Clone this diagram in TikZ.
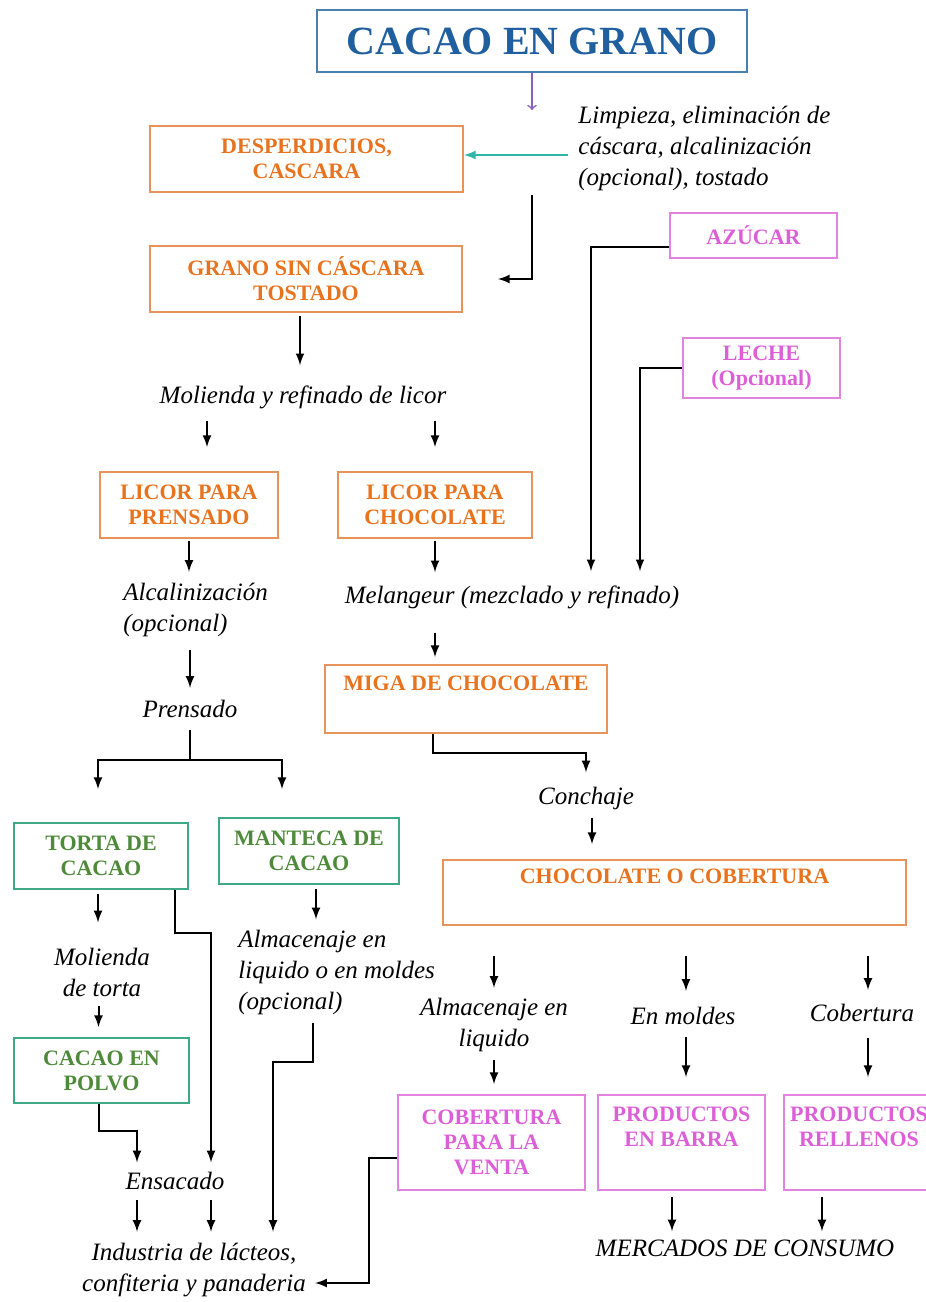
\documentclass[tikz,border=0pt]{standalone}
\usepackage{fontspec}
\setmainfont{Liberation Serif}
\definecolor{tituloazul}{HTML}{1F5F9F}
\definecolor{bordeazul}{HTML}{4A7FAF}
\definecolor{naranja}{HTML}{E8731E}
\definecolor{bordenaranja}{HTML}{E8935A}
\definecolor{verde}{HTML}{4E8A3A}
\definecolor{bordeverde}{HTML}{3DAA85}
\definecolor{magenta}{HTML}{DD5FD8}
\definecolor{bordemagenta}{HTML}{E283E0}
\definecolor{turquesa}{HTML}{2DB5A5}
\definecolor{morado}{HTML}{8B5FBF}
\tikzset{
  caja/.style={draw, line width=1pt, inner sep=0pt, align=center,
    font=\bfseries\fontsize{11}{12.5}\selectfont},
  cajanar/.style={caja, draw=bordenaranja, text=naranja},
  cajaver/.style={caja, draw=bordeverde, text=verde},
  cajamag/.style={caja, draw=bordemagenta, text=magenta},
  paso/.style={inner sep=0pt, align=center, font=\itshape\fontsize{12.5}{15.5}\selectfont},
  flecha/.style={-latex, line width=1pt},
}

\begin{document}
\begin{tikzpicture}[x=0.5pt,y=-0.5pt]
  \useasboundingbox (0,0) rectangle (926,1302);
  \fill[white] (0,0) rectangle (926,1302);

  \node[caja, draw=bordeazul, text=tituloazul, minimum width=215pt, minimum height=31pt,
    font=\bfseries\fontsize{20}{24}\selectfont] (grano) at (532,41) {CACAO EN GRANO};
  \node[paso, anchor=west, align=left] (limp) at (578,148)
    {Limpieza, eliminación de\\cáscara, alcalinización\\(opcional), tostado};
  \node[cajanar, minimum width=156.5pt, minimum height=33pt] (desp) at (306.5,159) {DESPERDICIOS,\\CASCARA};
  \node[cajanar, minimum width=156pt, minimum height=33pt] (sincas) at (306,279) {GRANO SIN CÁSCARA\\TOSTADO};
  \node[cajamag, minimum width=83.5pt, minimum height=22.5pt] (azucar) at (753.5,235.5) {AZÚCAR};
  \node[cajamag, minimum width=78.5pt, minimum height=30pt] (leche) at (761.5,368) {LECHE\\(Opcional)};
  \node[paso] (moli) at (303,397) {Molienda y refinado de licor};
  \node[cajanar, minimum width=89pt, minimum height=33pt] (licpren) at (189,505) {LICOR PARA\\PRENSADO};
  \node[cajanar, minimum width=97pt, minimum height=33pt] (licchoc) at (435,505) {LICOR PARA\\CHOCOLATE};
  \node[paso, anchor=west, align=left] (alca) at (123,610) {Alcalinización\\(opcional)};
  \node[paso] (melan) at (512,597) {Melangeur (mezclado y refinado)};
  \node[paso] (prens) at (190,709) {Prensado};
  \node[cajanar, minimum width=141pt, minimum height=34pt] (miga) at (466,699) {MIGA DE CHOCOLATE\\\strut};
  \node[paso] (conch) at (586,798) {Conchaje};
  \node[cajanar, minimum width=231.5pt, minimum height=32.5pt] (choco) at (674.5,892.5) {CHOCOLATE O COBERTURA\\\strut};
  \node[cajaver, minimum width=87pt, minimum height=33pt] (torta) at (101,856) {TORTA DE\\CACAO};
  \node[cajaver, minimum width=90pt, minimum height=33pt] (manteca) at (309,851) {MANTECA DE\\CACAO};
  \node[paso] (moltorta) at (102,972) {Molienda\\de torta};
  \node[cajaver, minimum width=87.5pt, minimum height=32.5pt] (polvo) at (101.5,1070.5) {CACAO EN\\POLVO};
  \node[paso, anchor=west, align=left] (almman) at (238,972) {Almacenaje en\\liquido o en moldes\\(opcional)};
  \node[paso] (ensac) at (175,1181) {Ensacado};
  \node[paso] (indus) at (194,1270) {Industria de lácteos,\\confiteria y panaderia};
  \node[paso] (almliq) at (494,1025) {Almacenaje en\\liquido};
  \node[paso] (moldes) at (683,1016) {En moldes};
  \node[paso] (cobert) at (862,1013) {Cobertura};
  \node[cajamag, minimum width=93.5pt, minimum height=47.5pt] (cobventa) at (491.5,1142.5) {COBERTURA\\PARA LA\\VENTA};
  \node[cajamag, minimum width=83.5pt, minimum height=47.5pt] (barra) at (681.5,1142.5) {PRODUCTOS\\EN BARRA\\\strut};
  \node[cajamag, minimum width=75pt, minimum height=47.5pt] (rellenos) at (859,1142.5) {PRODUCTOS\\RELLENOS\\\strut};
  \node[paso] (merc) at (745,1248) {MERCADOS DE CONSUMO};

  \coordinate (limptop) at (532,110);
  \coordinate (limpout) at (532,195);
  \coordinate (split) at (190,760);

  \draw[->, line width=0.8pt, color=morado] (grano.south) -- (limptop);
  \draw[flecha, color=turquesa, shorten <=5pt] ([yshift=2pt]desp.east -| limp.west) -- ([yshift=2pt]desp.east);
  \draw[flecha, shorten >=17.5pt] (limpout) |- (sincas.east);
  \draw[flecha, shorten <=1.5pt, shorten >=10pt] ([xshift=-3pt]sincas.south) -- ([xshift=-3pt]sincas.south |- moli.north);
  \draw[flecha, shorten <=6pt, shorten >=12pt] ([xshift=9pt]licpren.north |- moli.south) -- ([xshift=9pt]licpren.north);
  \draw[flecha, shorten <=6pt, shorten >=12pt] (licchoc.north |- moli.south) -- (licchoc.north);
  \draw[flecha, shorten <=1pt, shorten >=5.5pt] (licpren.south) -- (licpren.south |- alca.north);
  \draw[flecha, shorten <=1pt, shorten >=6.5pt] (licchoc.south) -- (licchoc.south |- melan.north);
  \draw[flecha, shorten >=7pt] ([yshift=-5.5pt]azucar.west) -| ([xshift=39.5pt]melan.north);
  \draw[flecha, shorten >=7pt] (leche.west) -| ([xshift=64pt]melan.north);
  \draw[flecha, shorten <=6.5pt, shorten >=6pt] (prens.north |- alca.south) -- (prens.north);
  \draw[line width=1pt, shorten <=6pt] (prens.south) -- (split);
  \draw[flecha, shorten >=16.5pt] (split) -| ([xshift=-1.5pt]torta.north);
  \draw[flecha, shorten >=14pt] (split) -| ([xshift=-13.5pt]manteca.north);
  \draw[flecha, shorten <=12pt, shorten >=3.5pt] (licchoc.south |- melan.south) -- (licchoc.south |- miga.north);
  \draw[flecha, shorten >=7pt] ([xshift=-16.5pt]miga.south) -- ++(0,19) -| (conch.north);
  \draw[flecha, shorten <=4pt, shorten >=7.5pt] ([xshift=3pt]conch.south) -- ([xshift=3pt]conch.south |- choco.north);
  \draw[flecha, shorten <=2pt, shorten >=12.5pt] ([xshift=-1.5pt]torta.south) -- ([xshift=-1.5pt]torta.south |- moltorta.north);
  \draw[flecha, shorten <=4.5pt, shorten >=5pt] ([xshift=-1.5pt]polvo.north |- moltorta.south) -- ([xshift=-1.5pt]polvo.north);
  \draw[flecha, shorten >=4.75pt] ([xshift=-7pt]torta.south east) -- ++(0,43) -| ([xshift=18pt]ensac.north);
  \draw[flecha, shorten >=4.75pt] ([xshift=-1.5pt]polvo.south) -- ++(0,27) -| ([xshift=-19pt]ensac.north);
  \draw[flecha, shorten <=5pt, shorten >=5.5pt] ([xshift=-19pt]ensac.south) -- ([xshift=-19pt]ensac.south |- indus.north);
  \draw[flecha, shorten <=5pt, shorten >=5.5pt] ([xshift=18pt]ensac.south) -- ([xshift=18pt]ensac.south |- indus.north);
  \draw[flecha, shorten <=2pt, shorten >=5pt] ([xshift=3.5pt]manteca.south) -- ([xshift=3.5pt]manteca.south |- almman.north);
  \draw[flecha, shorten <=4pt, shorten >=5.5pt] ([xshift=37.5pt]almman.south west) -- ++(0,47.5) -| ([xshift=39.5pt]indus.north);
  \draw[flecha, shorten >=4.5pt] ([yshift=-7.5pt]cobventa.west) -- ++(-28,0) |- ([yshift=-6.5pt]indus.east);
  \draw[flecha, shorten <=15pt, shorten >=5pt] (almliq.north |- choco.south) -- (almliq.north);
  \draw[flecha, shorten <=15pt, shorten >=8pt] ([xshift=1.5pt]moldes.north |- choco.south) -- ([xshift=1.5pt]moldes.north);
  \draw[flecha, shorten <=15pt, shorten >=7pt] ([xshift=3pt]cobert.north |- choco.south) -- ([xshift=3pt]cobert.north);
  \draw[flecha, shorten <=4pt, shorten >=5pt] (almliq.south) -- (almliq.south |- cobventa.north);
  \draw[flecha, shorten <=6pt, shorten >=8.5pt] ([xshift=1.5pt]moldes.south) -- ([xshift=1.5pt]moldes.south |- barra.north);
  \draw[flecha, shorten <=7.75pt, shorten >=8.5pt] ([xshift=3pt]cobert.south) -- ([xshift=3pt]cobert.south |- rellenos.north);
  \draw[flecha, shorten <=3pt, shorten >=4pt] ([xshift=-4.75pt]barra.south) -- ([xshift=-4.75pt]barra.south |- merc.north);
  \draw[flecha, shorten <=3pt, shorten >=4pt] ([xshift=-18.5pt]rellenos.south) -- ([xshift=-18.5pt]rellenos.south |- merc.north);
\end{tikzpicture}
\end{document}
